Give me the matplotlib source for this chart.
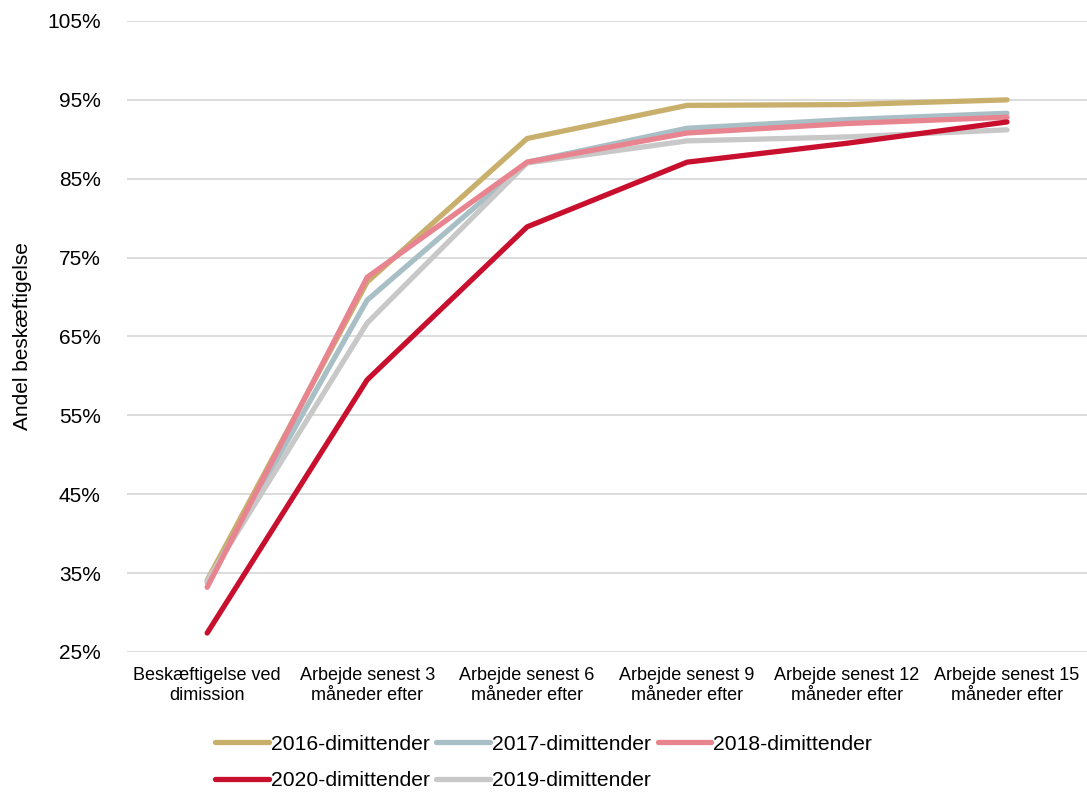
import matplotlib.pyplot as plt
from matplotlib.ticker import PercentFormatter

plt.rcParams['font.family'] = ['Liberation Sans', 'DejaVu Sans']

categories = ['Beskæftigelse ved\ndimission',
              'Arbejde senest 3\nmåneder efter',
              'Arbejde senest 6\nmåneder efter',
              'Arbejde senest 9\nmåneder efter',
              'Arbejde senest 12\nmåneder efter',
              'Arbejde senest 15\nmåneder efter']

y2016 = [34.1, 71.9, 90.1, 94.3, 94.4, 95.0]
y2017 = [33.8, 69.6, 87.1, 91.4, 92.5, 93.3]
y2018 = [33.2, 72.5, 87.1, 90.8, 92.0, 92.8]
y2019 = [34.0, 66.7, 87.0, 89.8, 90.3, 91.2]
y2020 = [27.4, 59.5, 78.9, 87.1, 89.5, 92.2]

series = [
    ('2016-dimittender', y2016, '#C8B06C'),
    ('2017-dimittender', y2017, '#A9BFC6'),
    ('2019-dimittender', y2019, '#C8C8C8'),
    ('2018-dimittender', y2018, '#E8848F'),
    ('2020-dimittender', y2020, '#C8102E'),
]

fig = plt.figure(figsize=(10.87, 7.92), dpi=100)
ax = fig.add_axes([0.117, 0.1768, 0.883, 0.7967])

x = range(len(categories))
lines = {}
for name, vals, col in series:
    ln, = ax.plot(x, vals, color=col, lw=3.8, solid_capstyle='round', label=name)
    lines[name] = ln

ax.set_xlim(-0.5, len(categories) - 0.5)
ax.set_ylim(25, 105)
ax.set_yticks(range(25, 106, 10))
ax.yaxis.set_major_formatter(PercentFormatter(decimals=0))
ax.set_xticks(list(x))
ax.set_xticklabels(categories, fontsize=13)
ax.tick_params(axis='y', labelsize=15, length=0, pad=19)
ax.tick_params(axis='x', length=0, pad=11)
ax.grid(axis='y', color='#D9D9D9', lw=1.3)
ax.set_axisbelow(True)
for s in ax.spines.values():
    s.set_visible(False)
ax.set_ylabel('Andel beskæftigelse', fontsize=15, labelpad=11)

order = ['2016-dimittender', '2020-dimittender', '2017-dimittender',
         '2019-dimittender', '2018-dimittender']
fig.legend([lines[n] for n in order], order, ncol=3, loc='upper left',
           bbox_to_anchor=(0.19, 0.083), frameon=False, fontsize=15.2,
           handlelength=2.55, handletextpad=0.1, columnspacing=0.3,
           labelspacing=0.83, borderaxespad=0)

fig.savefig('out.png', dpi=100)
